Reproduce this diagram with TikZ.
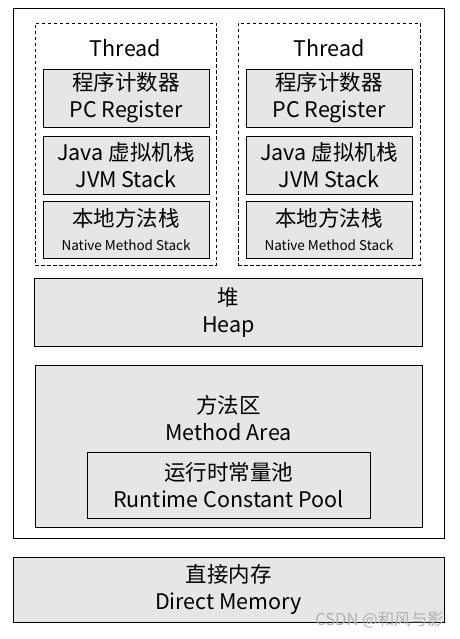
\documentclass[tikz,border=0pt]{standalone}
\usepackage{fontspec}
\setmainfont{Noto Sans CJK SC}
\definecolor{boxgray}{HTML}{E6E6E6}
\begin{document}
\begin{tikzpicture}[x=1pt,y=-1pt,
  frame/.style={draw=black,line width=0.9pt},
  graybox/.style={draw=black,line width=0.9pt,fill=boxgray,inner sep=0pt,align=center,
     font=\fontsize{21.5}{27}\selectfont},
  dashbox/.style={draw=black,line width=0.7pt,dash pattern=on 3.5pt off 2.5pt},
  lbl/.style={inner sep=0pt,align=center,font=\fontsize{21.5}{27}\selectfont}]
\useasboundingbox (0,0) rectangle (459,639);
% outer frame
\node[frame,inner sep=0pt,minimum width=431pt,minimum height=530pt] (outer) at (228.5,273) {};
% thread 1
\node[dashbox,inner sep=0pt,minimum width=181pt,minimum height=242pt] (th1) at (125.5,144) {};
\node[lbl] (th1l) at (125.5,48) {Thread};
\node[graybox,minimum width=166pt,minimum height=58pt] (pc1) at (126,98) {程序计数器\\PC Register};
\node[graybox,minimum width=166pt,minimum height=58pt] (jvm1) at (126,165) {Java 虚拟机栈\\JVM Stack};
\node[graybox,minimum width=166pt,minimum height=57pt] (nat1) at (126,229.5) {本地方法栈\\[-3pt]{\fontsize{13.5}{16}\selectfont Native Method Stack}};
% thread 2
\node[dashbox,inner sep=0pt,minimum width=182pt,minimum height=242pt] (th2) at (329,144) {};
\node[lbl] (th2l) at (329,48) {Thread};
\node[graybox,minimum width=166pt,minimum height=58pt] (pc2) at (329,98) {程序计数器\\PC Register};
\node[graybox,minimum width=166pt,minimum height=58pt] (jvm2) at (329,165) {Java 虚拟机栈\\JVM Stack};
\node[graybox,minimum width=166pt,minimum height=57pt] (nat2) at (329,229.5) {本地方法栈\\[-3pt]{\fontsize{13.5}{16}\selectfont Native Method Stack}};
% heap
\node[graybox,minimum width=388pt,minimum height=68pt] (heap) at (228.5,312) {堆\\Heap};
% method area
\node[graybox,minimum width=387pt,minimum height=162pt] (ma) at (228.5,446) {};
\node[lbl] (mal) at (228.5,418) {方法区\\Method Area};
\node[graybox,minimum width=283pt,minimum height=66pt] (rcp) at (228.5,485) {运行时常量池\\Runtime Constant Pool};
% direct memory
\node[graybox,minimum width=431pt,minimum height=65pt] (dm) at (228.5,589.5) {直接内存\\Direct Memory};
% watermark
\node[inner sep=0pt,anchor=east,text=gray!60,font=\fontsize{16.5}{18}\selectfont] (wm) at (444,620) {CSDN @和风与影};
\end{tikzpicture}
\end{document}
